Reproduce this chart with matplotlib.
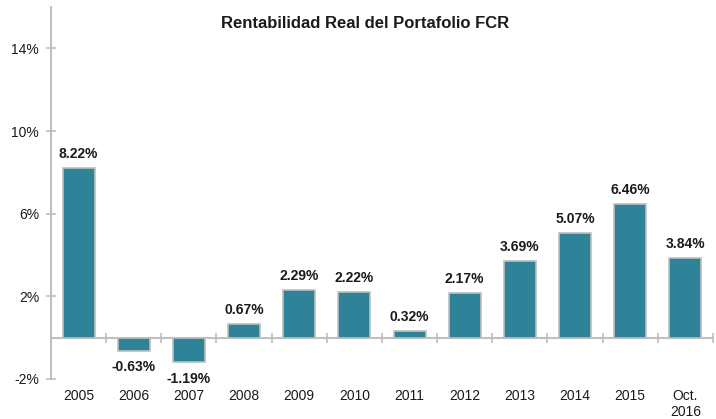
import numpy as np
import matplotlib.pyplot as plt

plt.rcParams["font.family"] = ["Liberation Sans", "DejaVu Sans"]

years = ["2005", "2006", "2007", "2008", "2009", "2010", "2011", "2012",
         "2013", "2014", "2015", "Oct.\n2016"]
returns = [8.22, -0.63, -1.19, 0.67, 2.29, 2.22, 0.32, 2.17, 3.69, 5.07, 6.46, 3.84]
y_ticks = [-2, 2, 6, 10, 14]

teal = "#2f8399"
grey = "#bfbfbf"
txt = "#1a1a1a"

fig = plt.figure(figsize=(7.16, 4.19), dpi=100)
ax = fig.add_axes([0.0712, 0.0955, 0.9246, 0.8875])

x = np.arange(len(years))
bars = ax.bar(x, returns, width=0.58, color=teal, edgecolor=grey, linewidth=1.2, zorder=3)

for b, v in zip(bars, returns):
    cx = b.get_x() + b.get_width() / 2
    if v >= 0:
        ax.annotate(f"{v:.2f}%", (cx, v), xytext=(0, 5), textcoords="offset points",
                    ha="center", va="bottom", fontsize=10, fontweight="bold", color=txt)
    else:
        ax.annotate(f"{v:.2f}%", (cx, v), xytext=(0, -7), textcoords="offset points",
                    ha="center", va="top", fontsize=10, fontweight="bold", color=txt)

ax.set_xlim(-0.5, len(years) - 0.5)
ax.set_ylim(-2, 16)

# axis lines
for s in ["top", "right"]:
    ax.spines[s].set_visible(False)
ax.spines["left"].set_color(grey)
ax.spines["left"].set_linewidth(1.5)
ax.spines["bottom"].set_position(("data", 0))
ax.spines["bottom"].set_color(grey)
ax.spines["bottom"].set_linewidth(1.5)

ax.set_yticks(y_ticks, [f"{t}%" for t in y_ticks])
ax.tick_params(axis="y", direction="inout", length=7, width=1.2, color=grey,
               labelsize=10, labelcolor=txt, pad=5)

# boundary ticks on the zero line, year labels at the bottom
ax.set_xticks(np.arange(-0.5, len(years)), [""] * (len(years) + 1))
ax.tick_params(axis="x", which="major", direction="inout", length=7, width=1.2, color=grey)
ax.set_xticks(x, years, minor=True)
ax.tick_params(axis="x", which="minor", length=0, labelsize=10, labelcolor=txt, pad=37)

fig.text(0.51, 0.945, "Rentabilidad Real del Portafolio FCR", ha="center", va="center",
         fontsize=12, fontweight="bold", color=txt)

fig.savefig("out.png", dpi=100)
